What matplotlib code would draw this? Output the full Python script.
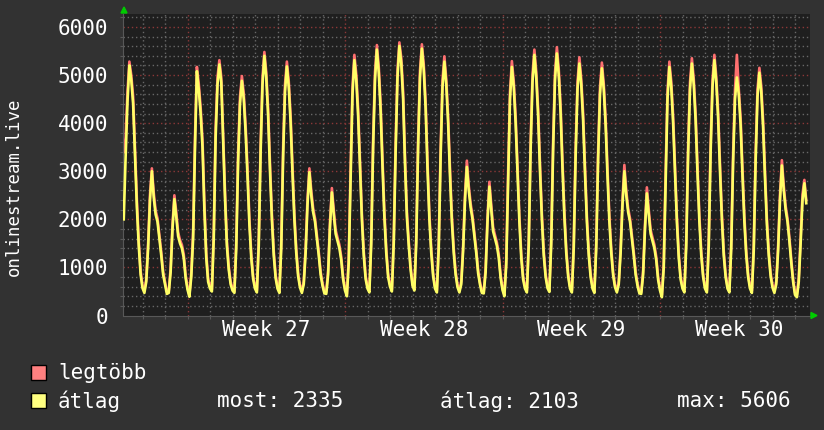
#!/usr/bin/env python3
"""Munin-style monthly graph of onlinestream.live listeners (max and average)."""

import matplotlib

matplotlib.use("Agg")
import matplotlib.pyplot as plt
import numpy as np
from matplotlib.patches import Polygon, Rectangle

# two-hour samples (00, 02, ..., 22h); days counted from the Monday that starts week 27
first_day = -3
first_hour = 4

avg_w26 = [
    [2000, 3300, 4450, 5200, 4900, 4400, 3300, 2250, 1450, 850],
    [570, 470, 700, 1400, 2400, 3000, 2450, 2100, 1950, 1600, 1250, 850],
    [650, 450, 470, 900, 1800, 2420, 2050, 1650, 1500, 1400, 1200, 780],
]
avg_w27 = [
    [540, 390, 800, 1600, 3500, 5080, 4700, 4200, 3500, 2200, 1200, 700],
    [560, 500, 1600, 3700, 4800, 5220, 4850, 3650, 2450, 1450, 950, 650],
    [520, 470, 1400, 3200, 4400, 4880, 4500, 3800, 2900, 1900, 1200, 760],
    [560, 480, 1450, 3400, 4800, 5400, 4950, 4150, 3000, 2000, 1250, 780],
    [560, 470, 1400, 3300, 4650, 5180, 4750, 4000, 2950, 2000, 1300, 820],
    [580, 470, 650, 1300, 2300, 2980, 2500, 2150, 1950, 1600, 1250, 850],
    [620, 460, 450, 850, 1850, 2560, 2100, 1700, 1550, 1400, 1150, 750],
]
avg_w28 = [
    [520, 400, 1100, 2900, 4600, 5310, 4900, 4150, 3050, 2000, 1250, 760],
    [560, 480, 1500, 3500, 4900, 5530, 5050, 4250, 3100, 2050, 1300, 800],
    [600, 500, 1500, 3400, 4950, 5606, 5250, 4500, 3150, 2050, 1450, 950],
    [620, 520, 1500, 3500, 4950, 5550, 5100, 4300, 3050, 2000, 1300, 820],
    [560, 480, 1400, 3300, 4750, 5280, 4800, 4000, 2900, 1950, 1300, 850],
    [590, 480, 650, 1350, 2400, 3090, 2600, 2250, 2000, 1650, 1300, 880],
    [640, 470, 460, 900, 1950, 2680, 2200, 1750, 1600, 1450, 1200, 780],
]
avg_w29 = [
    [530, 400, 1050, 2800, 4500, 5170, 4750, 4000, 2950, 1950, 1200, 750],
    [560, 480, 1450, 3450, 4850, 5420, 4950, 4150, 3000, 2000, 1250, 800],
    [570, 490, 1500, 3450, 4900, 5450, 5000, 4200, 3050, 2050, 1300, 820],
    [560, 480, 1400, 3300, 4700, 5240, 4800, 4050, 2950, 1950, 1250, 800],
    [560, 470, 1400, 3250, 4600, 5140, 4700, 3950, 2900, 1950, 1300, 840],
    [590, 480, 650, 1300, 2300, 3000, 2500, 2150, 1950, 1600, 1250, 850],
    [620, 460, 450, 850, 1800, 2540, 2100, 1700, 1550, 1400, 1150, 740],
]
avg_w30 = [
    [520, 380, 1000, 2800, 4500, 5170, 4750, 4000, 2950, 1950, 1200, 750],
    [560, 480, 1450, 3350, 4700, 5240, 4800, 4050, 2950, 1950, 1250, 800],
    [560, 480, 1450, 3400, 4750, 5310, 4850, 4100, 3000, 2000, 1250, 800],
    [560, 480, 1400, 3200, 4500, 4950, 4600, 3950, 2900, 1950, 1250, 800],
    [560, 470, 1350, 3200, 4550, 5050, 4650, 3900, 2850, 1900, 1250, 820],
    [580, 470, 650, 1350, 2400, 3120, 2600, 2200, 1950, 1550, 1100, 700],
    [430, 380, 700, 1500, 2400, 2750, 2335],
]

max_w26 = [
    [3400, 3700, 4650, 5280, 5000, 4550, 3450, 2400, 1550, 920],
    [620, 510, 760, 1500, 2520, 3060, 2550, 2180, 2020, 1680, 1320, 910],
    [700, 490, 510, 980, 1900, 2500, 2150, 1730, 1570, 1470, 1270, 840],
]
max_w27 = [
    [590, 430, 880, 1750, 3700, 5170, 4820, 4330, 3650, 2350, 1300, 760],
    [610, 540, 1750, 3900, 4950, 5310, 4960, 3800, 2580, 1550, 1020, 700],
    [570, 510, 1530, 3400, 4550, 4980, 4620, 3950, 3050, 2020, 1290, 820],
    [610, 520, 1580, 3580, 4950, 5480, 5060, 4300, 3150, 2120, 1340, 840],
    [610, 510, 1530, 3480, 4800, 5280, 4870, 4150, 3100, 2120, 1390, 880],
    [630, 510, 710, 1400, 2420, 3060, 2600, 2230, 2020, 1680, 1320, 910],
    [670, 500, 490, 930, 1950, 2650, 2200, 1780, 1620, 1470, 1220, 800],
]
max_w28 = [
    [570, 440, 1200, 3080, 4760, 5420, 5020, 4300, 3200, 2120, 1340, 820],
    [610, 520, 1630, 3680, 5060, 5624, 5170, 4400, 3250, 2170, 1390, 860],
    [650, 540, 1630, 3580, 5100, 5680, 5360, 4650, 3300, 2170, 1540, 1020],
    [670, 560, 1630, 3680, 5100, 5640, 5220, 4450, 3200, 2120, 1390, 880],
    [610, 520, 1530, 3480, 4900, 5390, 4920, 4150, 3050, 2070, 1390, 910],
    [640, 520, 710, 1450, 2520, 3220, 2700, 2330, 2070, 1730, 1370, 940],
    [690, 510, 500, 980, 2050, 2780, 2300, 1830, 1670, 1520, 1270, 840],
]
max_w29 = [
    [580, 440, 1150, 2980, 4660, 5290, 4870, 4150, 3100, 2070, 1290, 810],
    [610, 520, 1580, 3630, 5000, 5530, 5070, 4300, 3150, 2120, 1340, 860],
    [620, 530, 1630, 3630, 5050, 5580, 5120, 4350, 3200, 2170, 1390, 880],
    [610, 520, 1530, 3480, 4850, 5370, 4920, 4200, 3100, 2070, 1340, 860],
    [610, 510, 1530, 3430, 4750, 5260, 4820, 4100, 3050, 2070, 1390, 900],
    [640, 520, 710, 1400, 2420, 3130, 2600, 2230, 2020, 1680, 1320, 910],
    [670, 500, 490, 930, 1900, 2665, 2200, 1780, 1620, 1470, 1220, 800],
]
max_w30 = [
    [570, 420, 1100, 2980, 4660, 5280, 4870, 4150, 3100, 2070, 1290, 810],
    [610, 520, 1580, 3530, 4850, 5350, 4920, 4200, 3100, 2070, 1340, 860],
    [610, 520, 1580, 3580, 4900, 5420, 4970, 4250, 3150, 2120, 1340, 860],
    [610, 520, 1530, 3380, 4700, 5420, 4720, 4100, 3050, 2070, 1340, 860],
    [610, 510, 1480, 3380, 4700, 5150, 4770, 4050, 3000, 2020, 1340, 880],
    [630, 510, 710, 1450, 2520, 3230, 2700, 2280, 2020, 1630, 1170, 760],
    [470, 420, 780, 1620, 2520, 2820, 2400],
]

week_labels = ["Week 27", "Week 28", "Week 29", "Week 30"]
y_ticks = [0, 1000, 2000, 3000, 4000, 5000, 6000]
legend_now = 2335
legend_avg = 2103
legend_max = 5606

W, H = 824, 430
LEFT, RIGHT, TOP, BOTTOM = 123.5, 810.0, 14.0, 315.5
BG = "#323232"
PLOT_BG = "#1f1f1f"
RED = "#ff7070"
YELLOW = "#ffff66"
GRID = "#686868"
GRID_MAJOR = "#8c3838"
FONT = "DejaVu Sans Mono"


def fx(px: float) -> float:
    return px / W


def fy(py: float) -> float:
    return 1 - py / H


def flatten(*weeks):
    return np.asarray([v for week in weeks for day in week for v in day], dtype=float)


avg = flatten(avg_w26, avg_w27, avg_w28, avg_w29, avg_w30)
mx = flatten(max_w26, max_w27, max_w28, max_w29, max_w30)
t = first_day + first_hour / 24 + np.arange(avg.size) / 12

fig = plt.figure(figsize=(W / 100, H / 100), dpi=100, facecolor=BG)
ax = fig.add_axes([fx(LEFT), fy(BOTTOM), fx(RIGHT) - fx(LEFT), fy(TOP) - fy(BOTTOM)])
ax.set_facecolor(PLOT_BG)

day_px = 22.5
x_min = (LEFT - 187.5) / day_px
x_max = (RIGHT - 187.5) / day_px
ax.set_xlim(x_min, x_max)
ax.set_ylim(0, 6270)

dots = (0, (1, 2))
for y in range(200, 6270, 200):
    if y % 1000:
        ax.axhline(y, color=GRID, lw=1.0, ls=dots, zorder=0.5)
for y in range(1000, 6270, 1000):
    ax.axhline(y, color=GRID_MAJOR, lw=1.0, ls=dots, zorder=0.6)
for d in range(-2, 28):
    color = GRID_MAJOR if d % 7 == 0 else GRID
    ax.axvline(d, color=color, lw=1.0, ls=dots, zorder=0.5)

ax.plot(t, mx, color=RED, lw=1.9, zorder=2)
ax.plot(t, avg, color=YELLOW, lw=1.9, zorder=3)

for side in ("top", "right"):
    ax.spines[side].set_visible(False)
for side in ("left", "bottom"):
    ax.spines[side].set_color("#585858")
    ax.spines[side].set_linewidth(0.8)

ax.set_yticks(y_ticks)
ax.set_yticklabels([str(v) for v in y_ticks], fontsize=15, color="white", family=FONT)
ax.set_xticks([3.5, 10.5, 17.5, 24.5])
ax.set_xticklabels(week_labels, fontsize=15, color="white", family=FONT)
ax.tick_params(axis="y", length=0, pad=11)
ax.tick_params(axis="x", length=0, pad=3)
ax.set_xticks(list(range(-2, 28)), minor=True)
ax.set_yticks(list(range(200, 6270, 200)), minor=True)
ax.tick_params(which="minor", length=2.5, color="#585858", width=0.8)

fig.text(fx(14), fy(187), "onlinestream.live", rotation=90, fontsize=12.5,
         color="white", family=FONT, ha="center", va="center")

# green axis arrows
fig.patches.append(Polygon([(fx(121), fy(13)), (fx(127), fy(13)), (fx(124), fy(7))],
                           closed=True, color="#00cc00", transform=fig.transFigure))
fig.patches.append(Polygon([(fx(811), fy(312.5)), (fx(811), fy(318.5)), (fx(817), fy(315.5))],
                           closed=True, color="#00cc00", transform=fig.transFigure))

# legend
for top, color in ((365, "#ff8080"), (393, "#ffff80")):
    fig.patches.append(Rectangle((fx(31), fy(top + 15)), fx(15), 15 / H, facecolor=color,
                                 edgecolor="black", lw=1, transform=fig.transFigure))
legend_items = [
    (58, 373, "legtöbb"),
    (58, 401, "átlag"),
    (217, 401, f"most: {legend_now}"),
    (440, 401, f"átlag: {legend_avg}"),
    (677, 401, f"max: {legend_max}"),
]
for x, y, text in legend_items:
    fig.text(fx(x), fy(y), text, fontsize=15, color="white", family=FONT, ha="left", va="center")

fig.savefig("out.png", dpi=100, facecolor=BG)
